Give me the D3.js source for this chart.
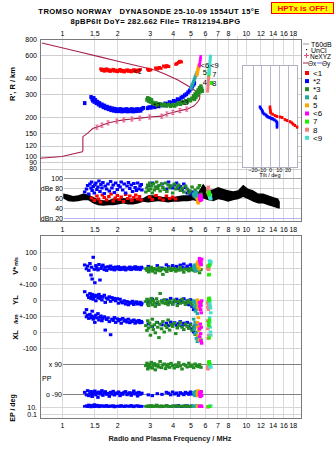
<!DOCTYPE html>
<html><head><meta charset="utf-8">
<script src="https://cdnjs.cloudflare.com/ajax/libs/d3/7.8.5/d3.min.js"></script>
<style>
html,body{margin:0;padding:0;background:#fff;}
svg{display:block;}
text{font-family:"Liberation Sans",Arial,sans-serif;}
</style></head><body>
<svg id="chart" width="335" height="451"></svg>
<script>
// ---------------- DATA ----------------
const titleLine1 = "TROMSO NORWAY   DYNASONDE 25-10-09 1554UT 15°E";
const titleLine2 = "8pBP6It DoY= 282.662 File= TR812194.BPG";
const warnText = "HPTx is OFF!";
const freqTicksTop = [1,1.5,2,3,4,5,6,7,8,10,12,14,16,18];
const freqLabelsTop = ["1","1.5","2","3","4","5","6","7","8","10","12","14","16","18"];
const freqTicksMid = [1,1.5,2,3,4,5,6,7,8,9,10,12,14,16,18];
const freqLabelsMid = ["1","1.5","2","3","4","5","6","7","8","9","10","12","14","16","18"];
const freqGrid = [1,1.5,2,3,4,5,6,7,8,9,10,12,14,16,18];
const heightTicks = [800,600,400,300,200,150,120,100,90,80];
const dbTicks = [100,80,60,40,20];
const dbTickLabels = ["100","dBe 80","60","40","dBn 20"];
const tiltTicks = [-20,-10,0,10,20];
const traceNames = ["<1","*2","*3","4","5","<6","7","8","<9"];
const traceColors = ["#ff0000","#0000ff","#228b22","#20a8a8","#ffa500","#ff00ff","#22ee00","#f08080","#40e0d0"];

// true-height profile (MHz, km)
const profF = [0.76,1.0,1.29,1.30,1.30,1.38,1.47,1.55,1.65,1.78,1.99,2.17,2.40,2.65,3.0,3.49,3.72,4.01,4.38,4.80,5.21,5.47,5.60,5.62,5.42,4.96,4.27,3.63,3.20,2.56,1.99,1.61,1.25,1.0,0.778];
const profH = [96,99,108,110,141,150,163,167,173,180,186,190,193,196,200,203,211,217,224,230,243,261,275,290,312,341,386,430,461,497,541,582,634,684,745];
// NeXYZ markers
const neF = [1.55,1.65,1.78,1.99,2.17,2.40,2.65,3.0,3.49,3.72,4.01,4.38,4.77];
const neH = [167,173,180,186,190,193,196,200,203,211,217,224,230];

// virtual height traces [MHz, km]
const hRed = [[1.63,470],[1.65,458],[1.68,466],[1.70,452],[1.72,462],[1.75,470],[1.78,455],[1.80,463],[1.83,450],[1.86,458],[1.90,466],[1.93,452],[1.96,460],[2.00,448],[2.03,457],[2.07,465],[2.10,450],[2.14,458],[2.18,446],[2.22,455],[2.26,462],[2.30,450],[2.34,458],[2.38,447],[2.42,455],[2.46,463],[2.50,452],[2.54,460],[2.58,449],[2.62,458],[2.66,465],[2.93,468],[2.97,458],[3.03,462],[3.24,478],[3.30,470],[3.38,482],[3.45,475],[3.58,495],[3.65,486],[3.72,498],[3.80,490],[4.17,510],[4.22,518],[4.32,528],[4.38,538],[4.45,532]];
const hBlue = [[1.33,256],[1.44,285],[1.46,276],[1.47,268],[1.49,280],[1.50,262],[1.52,270],[1.54,256],[1.56,262],[1.58,250],[1.60,256],[1.62,244],[1.65,250],[1.68,238],[1.70,245],[1.73,234],[1.76,240],[1.79,230],[1.82,236],[1.85,226],[1.88,233],[1.91,224],[1.94,231],[1.97,222],[2.00,229],[2.04,222],[2.08,230],[2.12,221],[2.16,228],[2.20,222],[2.24,230],[2.28,221],[2.32,228],[2.36,222],[2.40,230],[2.44,221],[2.48,228],[2.52,222],[2.56,230],[2.60,223],[2.64,229],[2.68,224],[2.72,231],[2.77,235],[2.92,234],[2.98,238],[3.05,236],[3.12,242],[3.20,238],[3.28,245],[3.36,242],[3.45,249],[3.55,246],[3.64,254],[3.74,252],[3.84,260],[3.95,258],[4.05,266],[4.15,264],[4.25,274],[4.35,272],[4.45,282],[4.55,286],[4.65,294],[4.75,300],[4.85,310],[4.95,320],[5.05,332],[5.12,344],[5.20,356],[5.25,366]];
const hGreen = [[2.90,272],[2.93,280],[2.96,266],[3.00,275],[3.03,262],[3.07,270],[3.12,258],[3.18,252],[3.25,256],[3.30,248],[3.40,252],[3.50,246],[3.60,250],[3.70,244],[3.80,249],[3.90,243],[4.00,248],[4.10,244],[4.20,250],[4.30,256],[4.40,252],[4.50,260],[4.60,256],[4.70,266],[4.80,262],[4.90,272],[5.00,268],[5.10,278],[5.20,290],[5.25,275],[5.30,300],[5.35,284],[5.40,310],[5.45,295],[5.50,322],[5.55,305],[5.60,335],[5.65,315],[5.70,345],[5.75,330],[5.80,318]];
const hTeal = [[5.05,335],[5.10,350],[5.15,362],[5.20,375],[5.25,390],[5.30,405],[5.35,420],[5.42,437]];
const hOrange = [[5.42,425],[5.45,440],[5.48,455],[5.50,470],[5.52,485],[5.55,500]];
const hMagenta = [[5.60,500],[5.62,520],[5.64,540],[5.66,560],[5.68,580]];
const hLime = [[6.28,405],[6.30,430],[6.31,455],[6.32,480],[6.50,366]];
const hSalmon = [[6.20,320],[6.22,340],[6.24,360],[6.26,380],[6.27,400]];
const hTurq = [[6.32,440],[6.34,470],[6.36,500],[6.38,530],[6.40,560],[6.42,585]];

// tilt inset [deg, km]
const tiltBlue = [[-11.5,239],[-10.5,233],[-9.2,226],[-8.5,220],[-8,215],[-6.5,211],[-4.6,207],[-3.5,203],[-2.3,200],[-0.5,198],[1.1,196],[2.3,194],[3.4,193],[5,190],[6.9,186],[8,182],[8,177],[8,172],[8,167]];
const tiltRed = [[0,239],[0,232],[0.5,225],[0.5,219],[1,215],[3,210],[5.7,205],[8,202],[11.5,200],[14,198],[17,191],[19.5,188],[23,184],[25,180],[26.5,176],[28.5,172],[31,167]];

// noise / amplitude band (MHz, dB)
const noiseF = [1.017,1.082,1.152,1.227,1.306,1.39,1.48,1.575,1.677,1.786,1.90,2.02,2.155,2.29,2.44,2.60,2.77,2.94,3.14,3.34,3.55,3.78,4.03,4.29,4.56,4.86,5.17,5.51,5.86,6.24,6.64,7.07,7.53,8.01,8.53,9.08,9.67,10.3,10.96,11.67,12.42,13.22,14.07,15.0,15.3];
const noiseHi = [68.8,66.8,64.2,65.5,68.8,66.8,62.2,57.6,55.6,55.6,58.9,58.9,60.2,58.9,58.9,58.9,60.2,65.5,65.5,64.2,62.2,62.2,62.2,64.2,65.5,65.5,66.8,72.1,88.6,75.4,77.4,82,78.7,75.4,73.4,75.4,86.6,78.7,75.4,68.8,68.8,65.5,62.2,58.9,52.3];
const noiseLo = [58.9,53.6,52.3,53.6,55.6,55.6,49,45.7,44.4,45.7,45.7,47,49,47,47,49,52.3,51,52.3,53.6,52.3,51,52.3,52.3,53.6,53.6,55.6,52.3,58.9,55.6,53.6,57.6,55.6,52.3,55.6,57.6,62.2,57.6,52.3,49,49,45.7,42.4,39.1,39.1];

// echoes of trace 2 (blue): frequency and parameters
const fB = [1.33,1.36,1.38,1.40,1.42,1.44,1.45,1.46,1.48,1.50,1.51,1.53,1.55,1.57,1.59,1.61,1.63,1.65,1.67,1.70,1.72,1.75,1.78,1.81,1.84,1.87,1.90,1.93,1.96,2.00,2.03,2.07,2.10,2.14,2.18,2.22,2.26,2.30,2.34,2.38,2.42,2.46,2.50,2.54,2.58,2.62,2.66,2.70,2.72,2.95,3.10,3.30,3.50,3.70,3.80,3.90,4.00,4.10,4.20,4.30,4.40,4.50,4.60,4.70,4.80,4.90,5.00,5.10,5.20,5.30];
const vB = [19,-5,12,-15,28,-44,5,-69,67,-8,-92,15,0,-12,22,-75,-3,10,18,-10,5,-15,8,-5,12,-8,3,-12,6,-6,8,-10,2,-8,5,-12,0,-6,6,-10,2,-5,8,-8,4,-3,-10,5,0,10,-5,15,0,20,8,-5,15,2,10,-8,18,5,25,0,12,-5,20,8,-12,15];
const ylB = [52,-60,30,15,40,10,25,35,5,20,30,-5,28,15,35,10,22,0,18,30,-15,12,5,20,-8,15,2,10,-5,8,-20,5,-12,-18,-5,-25,-10,-30,-15,-20,-8,-28,-18,-12,-25,-22,-15,-30,-20,-15,5,-20,-5,0,-15,10,-25,-8,5,-18,-2,-12,8,-20,-5,-30,2,-40,-60,-10];
const xlB = [120,95,105,85,110,90,100,130,80,95,60,105,88,115,75,92,100,70,85,95,12,78,88,65,-17,80,72,90,60,82,70,78,55,85,68,75,62,80,58,70,65,75,55,68,62,72,58,66,60,50,35,60,45,55,40,62,48,58,42,52,65,38,55,45,60,30,50,20,0,40];
const ppB = [-80,-95,-70,-100,-85,-75,-90,-105,-80,-88,-72,-95,-82,-110,-78,-90,-85,-70,-98,-84,-76,-92,-86,-104,-80,-90,-74,-96,-84,-88,-78,-100,-86,-92,-80,-76,-94,-88,-82,-98,-86,-72,-90,-84,-102,-80,-92,-88,-85,-95,-100,-88,-92,-80,-85,-95,-78,-90,-84,-98,-82,-88,-94,-80,-86,-92,-78,-90,-84,-96];
const epB = [15,25,12,40,18,10,30,14,22,50,12,16,35,20,11,28,15,18,24,13,19,30,12,16,22,14,26,10,18,15,21,13,28,17,12,24,15,20,14,30,16,11,22,18,25,13,19,15,17,15,12,20,14,25,16,12,18,22,14,30,16,12,20,15,25,13,18,22,15,12];
const dbB = [72,78,85,68,88,80,92,75,83,70,86,90,77,82,94,73,87,80,91,69,84,78,88,74,93,80,86,71,90,77,85,82,92,76,88,70,84,91,79,86,73,89,81,75,90,78,84,87,76,85,90,82,88,78,92,84,80,86,90,79,83,76,88,81,70,74,68,72,66,70];

// echoes of trace 3 (green)
const fG = [2.86,2.90,2.93,2.96,3.00,3.03,3.06,3.10,3.14,3.18,3.22,3.27,3.32,3.37,3.42,3.48,3.54,3.60,3.66,3.72,3.78,3.85,3.92,4.00,4.08,4.16,4.24,4.32,4.40,4.50,4.60,4.70,4.80,4.90,5.00,5.10,5.20,5.30,5.40,5.50,5.60,5.70];
const vG = [-5,-15,0,-25,-8,-12,5,-20,-3,-10,-30,-6,-14,2,-18,-8,-40,-4,-12,-22,-6,0,-16,-10,-2,-20,-8,-14,5,-12,-26,-6,-10,-18,-4,-12,-8,-20,-15,-5,-30,-10];
const ylG = [-10,5,-25,-35,0,-15,10,-30,-5,-20,-40,8,-12,-28,41,-8,-18,2,-22,-10,-30,-5,-15,-25,0,-12,-35,-8,-20,5,-15,-28,-10,-2,-18,-30,-8,-45,-20,-60,-35,-15];
const xlG = [40,10,70,25,55,-20,35,80,15,45,-5,60,30,-35,50,20,65,0,40,28,75,12,45,35,55,-10,25,40,60,30,15,50,35,22,45,10,30,-15,40,-30,20,-50];
const ppG = [80,95,60,75,88,70,100,65,82,92,55,78,86,72,105,68,84,90,62,76,88,70,94,80,66,85,74,98,78,60,88,82,72,95,76,84,68,90,80,74,86,70];
const epG = [15,20,12,25,14,18,30,12,16,22,13,40,15,18,11,24,16,13,20,28,14,17,12,22,15,19,26,13,16,20,14,30,12,18,15,22,13,17,25,14,19,16];
const dbG = [72,80,86,75,90,78,84,70,88,76,82,92,79,85,74,88,81,77,90,73,86,80,84,70,88,78,82,86,75,80,72,84,78,70,74,82,66,76,70,80,85,68];

// echoes of trace 1 (red), amplitude only
const fR = [1.45,1.50,1.55,1.58,1.62,1.66,1.70,1.75,1.80,1.85,1.90,1.95,2.00,2.05,2.10,2.16,2.22,2.28,2.34,2.40,2.46,2.52,2.58,2.64,2.70,3.00,3.10,3.25,3.40,3.55,3.70,3.85,4.00,4.15];
const dbR = [60,55,64,58,52,66,61,56,63,68,54,60,65,57,62,53,67,59,64,55,61,66,58,63,56,62,57,65,60,56,64,59,62,58];

// echoes of traces 4..9
const f4 = [5.20,5.25,5.30,5.32,5.35,5.38,5.40,5.45];
const v4 = [10,-5,20,0,-15,5,-10,15];
const yl4 = [-5,-40,-20,-70,-10,-55,-30,-85];
const xl4 = [80,20,60,-10,40,-40,0,-60];
const pp4 = [-80,-95,-85,-100,-75,-90,-88,-82];
const ep4 = [15,12,20,14,18,16,12,22];
const db4 = [68,64,70,62,66,72,60,65];
const f5 = [5.45,5.48,5.50,5.52,5.55,5.58,5.60];
const v5 = [30,15,40,5,25,-5,20];
const yl5 = [0,-20,-45,-10,-30,-60,-15];
const xl5 = [60,30,-20,90,10,-50,40];
const pp5 = [-85,-100,-70,-92,-80,-95,-88];
const ep5 = [14,18,12,22,15,20,13];
const db5 = [58,52,56,50,54,60,55];
const f6 = [5.60,5.62,5.65,5.68,5.70,5.72,5.75];
const v6 = [60,45,30,50,35,20,55];
const yl6 = [-15,-40,-25,-60,-35,-80,-5];
const xl6 = [20,-30,50,-10,-55,30,-70];
const pp6 = [-90,-80,-105,-85,-95,-75,-100];
const ep6 = [16,12,20,14,18,22,13];
const db6 = [62,58,66,55,60,64,57];
const f7 = [6.28,6.30,6.32,6.34];
const v7 = [-44,10,-40,20];
const yl7 = [8,-5,12,0];
const xl7 = [60,40,-37,75];
const pp7 = [100,95,105,90];
const ep7 = [15,12,18,14];
const db7 = [70,66,72,68];
const f8 = [6.20,6.22,6.24,6.26,6.28];
const v8 = [10,-5,15,0,-10];
const yl8 = [-20,-45,-10,-60,-30];
const xl8 = [70,20,-40,45,-20];
const pp8 = [70,60,80,65,75];
const ep8 = [12,8,15,10,14];
const db8 = [72,78,70,82,75];
const f9 = [6.35,6.37,6.40,6.42,6.45];
const v9 = [45,30,20,40,35];
const yl9 = [5,-15,-35,-50,-80];
const xl9 = [90,60,30,0,-20];
const pp9 = [85,75,90,80,70];
const ep9 = [15,20,12,18,25];
const db9 = [64,60,62,66,58];

// in-plot trace labels [text, MHz, km]
const plotLabels = [["<1",2.57,447],["*2",3.28,244],["*3",4.66,261],["<6",5.99,504],["5",5.99,440],["4",5.99,372],["<9",6.75,500],["7",6.75,425],["8",6.75,366]];

// ---------------- DRAW ----------------
const svg = d3.select("#chart");
svg.append("rect").attr("width",335).attr("height",451).attr("fill","#fff");

const x = d3.scaleLog().domain([0.76,20.2]).range([40,302]);
const yH = d3.scaleLog().domain([100,800]).range([156,39]);
const yDb = d3.scaleLinear().domain([20,100]).range([218,178]);
const yV = d3.scaleLinear().domain([-100,100]).range([284,252]);
const yYL = d3.scaleLinear().domain([-100,100]).range([316,284]);
const yXL = d3.scaleLinear().domain([-100,100]).range([348,316]);
const yPP = d3.scaleLinear().domain([-90,90]).range([394,364]);
const yEP = d3.scaleLog().domain([0.1,10]).range([414,407]);
const xT = d3.scaleLinear().domain([-32,32]).range([242,298]);

const grid = "#dadada";
const px = v => Math.round(v)+0.5;

// grids
const gG = svg.append("g").attr("shape-rendering","crispEdges");
[[36,222],[235,419]].forEach(([a,b])=>{
  gG.selectAll(null).data(freqGrid).join("line")
    .attr("x1",d=>px(x(d))).attr("x2",d=>px(x(d))).attr("y1",a).attr("y2",b).attr("stroke",grid);
});
gG.selectAll(null).data(heightTicks).join("line")
  .attr("x1",40).attr("x2",302).attr("y1",d=>px(yH(d))).attr("y2",d=>px(yH(d))).attr("stroke","#cfcfcf");
gG.selectAll(null).data(dbTicks).join("line")
  .attr("x1",64).attr("x2",302).attr("y1",d=>px(yDb(d))).attr("y2",d=>px(yDb(d)))
  .attr("stroke",d=>d===20?"#b4b4f0":(d===100?"#a0a0a0":"#cfcfcf"));
const lowerLines = [yV(100),yV(0),yV(-100),yYL(0),yYL(-100),yXL(0),yXL(-100),yEP(10),yEP(0.1)];
gG.selectAll(null).data(lowerLines).join("line")
  .attr("x1",40).attr("x2",302).attr("y1",d=>px(d)).attr("y2",d=>px(d)).attr("stroke","#d6d6d6");
gG.selectAll(null).data([90,-90]).join("line")
  .attr("x1",63).attr("x2",302).attr("y1",d=>px(yPP(d))).attr("y2",d=>px(yPP(d))).attr("stroke","#808080");

// frames
const gF = svg.append("g").attr("shape-rendering","crispEdges").attr("fill","none").attr("stroke","#7a7a7a");
gF.append("rect").attr("x",40.5).attr("y",39.5).attr("width",261).attr("height",182);
gF.append("rect").attr("x",40.5).attr("y",235.5).attr("width",261).attr("height",183);

// tilt inset
const gT = svg.append("g");
gT.append("rect").attr("x",242.5).attr("y",65.5).attr("width",55).attr("height",102)
  .attr("fill","#fff").attr("stroke","#b0b0c0").attr("shape-rendering","crispEdges");
gT.selectAll(null).data(tiltTicks).join("line").attr("shape-rendering","crispEdges")
  .attr("x1",d=>px(xT(d))).attr("x2",d=>px(xT(d))).attr("y1",66).attr("y2",167).attr("stroke","#b8b8d0");
const tAx = gT.append("g").attr("transform","translate(0,168)")
  .call(d3.axisBottom(xT).tickValues(tiltTicks).tickSize(0).tickPadding(0).tickFormat(d3.format("d")));
tAx.select(".domain").remove();
tAx.selectAll("text").attr("font-size","5.5px").attr("font-family","Liberation Sans");
gT.append("text").attr("x",270).attr("y",177).attr("text-anchor","middle").attr("font-size","5.5px").text("Tilt / deg");
function sq(g, data, fx, fy, color, w, h){
  g.selectAll(null).data(data).join("rect")
    .attr("x",d=>fx(d)-w/2).attr("y",d=>fy(d)-h/2).attr("width",w).attr("height",h).attr("fill",color);
}
sq(gT, tiltBlue, d=>xT(d[0]), d=>yH(d[1]), traceColors[1], 2.5, 3);
sq(gT, tiltRed, d=>xT(d[0]), d=>yH(d[1]), traceColors[0], 2.5, 3);

// profile
const prof = profF.map((f,i)=>[f,profH[i]]);
svg.append("path").datum(prof).attr("fill","none").attr("stroke","#a8204a").attr("stroke-width",1.1)
  .attr("d",d3.line().x(d=>x(d[0])).y(d=>yH(d[1])));
const gNe = svg.append("g").attr("stroke","#e8508a").attr("stroke-width",1).attr("fill","none");
gNe.selectAll(null).data(neF.map((f,i)=>[f,neH[i]])).join("path")
  .attr("d",d=>{const cx=x(d[0]),cy=yH(d[1]);return `M${cx-1.5},${cy-2}h3M${cx},${cy-2}v4M${cx-1.5},${cy+2}h3`;});

// height traces
const gTr = svg.append("g");
sq(gTr, hRed, d=>x(d[0]), d=>yH(d[1]), traceColors[0], 3.5, 3);
sq(gTr, hBlue, d=>x(d[0]), d=>yH(d[1]), traceColors[1], 3.5, 4);
sq(gTr, hGreen, d=>x(d[0]), d=>yH(d[1]), traceColors[2], 3.5, 4);
sq(gTr, hTeal, d=>x(d[0]), d=>yH(d[1]), traceColors[3], 3, 4);
sq(gTr, hOrange, d=>x(d[0]), d=>yH(d[1]), traceColors[4], 3, 4);
sq(gTr, hMagenta, d=>x(d[0]), d=>yH(d[1]), traceColors[5], 2.5, 4);
sq(gTr, hLime, d=>x(d[0]), d=>yH(d[1]), traceColors[6], 3, 4);
sq(gTr, hSalmon, d=>x(d[0]), d=>yH(d[1]), traceColors[7], 3, 4);
sq(gTr, hTurq, d=>x(d[0]), d=>yH(d[1]), traceColors[8], 3, 4);
svg.append("g").selectAll(null).data(plotLabels).join("text")
  .attr("x",d=>x(d[1])).attr("y",d=>yH(d[2])).attr("dy","0.35em").attr("text-anchor","middle")
  .attr("font-size","7.5px").attr("fill","#000").text(d=>d[0]);

// amplitude band
const noise = noiseF.map((f,i)=>[f,noiseLo[i],noiseHi[i]]);
svg.append("path").datum(noise).attr("fill","#000")
  .attr("d",d3.area().x(d=>x(d[0])).y0(d=>yDb(d[1])).y1(d=>yDb(d[2])));

// echoes
function echoes(f, cols){ return f.map((v,i)=>{const o={f:v}; for(const k in cols) o[k]=cols[k][i]; return o;}); }
const E = [
  [echoes(fB,{v:vB,yl:ylB,xl:xlB,pp:ppB,ep:epB,db:dbB}), traceColors[1]],
  [echoes(fG,{v:vG,yl:ylG,xl:xlG,pp:ppG,ep:epG,db:dbG}), traceColors[2]],
  [echoes(f4,{v:v4,yl:yl4,xl:xl4,pp:pp4,ep:ep4,db:db4}), traceColors[3]],
  [echoes(f5,{v:v5,yl:yl5,xl:xl5,pp:pp5,ep:ep5,db:db5}), traceColors[4]],
  [echoes(f6,{v:v6,yl:yl6,xl:xl6,pp:pp6,ep:ep6,db:db6}), traceColors[5]],
  [echoes(f8,{v:v8,yl:yl8,xl:xl8,pp:pp8,ep:ep8,db:db8}), traceColors[7]],
  [echoes(f9,{v:v9,yl:yl9,xl:xl9,pp:pp9,ep:ep9,db:db9}), traceColors[8]],
  [echoes(f7,{v:v7,yl:yl7,xl:xl7,pp:pp7,ep:ep7,db:db7}), traceColors[6]]
];
const gE = svg.append("g");
sq(gE, echoes(fR,{db:dbR}), d=>x(d.f), d=>yDb(d.db), traceColors[0], 3.5, 3);
E.forEach(([data,col])=>{
  sq(gE, data, d=>x(d.f), d=>yDb(d.db), col, 3.5, 3);
  sq(gE, data, d=>x(d.f), d=>yV(d.v), col, 3.5, 3);
  sq(gE, data, d=>x(d.f), d=>yYL(d.yl), col, 3.5, 3);
  sq(gE, data, d=>x(d.f), d=>yXL(d.xl), col, 3.5, 3);
  sq(gE, data, d=>x(d.f), d=>yPP(d.pp), col, 3.5, 3);
  sq(gE, data, d=>x(d.f), d=>yEP(d.ep), col, 3.5, 2.5);
});

// axes
function styleAx(g){ g.select(".domain").remove(); g.selectAll("text").attr("font-size","7px").attr("font-family","Liberation Sans").attr("fill","#000"); return g; }
styleAx(svg.append("g").attr("transform","translate(0,39)")
  .call(d3.axisTop(x).tickValues(freqTicksTop).tickSize(0).tickPadding(3).tickFormat((d,i)=>freqLabelsTop[i])));
styleAx(svg.append("g").attr("transform","translate(0,222)")
  .call(d3.axisBottom(x).tickValues(freqTicksMid).tickSize(0).tickPadding(5.5).tickFormat((d,i)=>freqLabelsMid[i])));
styleAx(svg.append("g").attr("transform","translate(0,419)")
  .call(d3.axisBottom(x).tickValues(freqTicksTop).tickSize(0).tickPadding(4).tickFormat((d,i)=>freqLabelsTop[i])));
styleAx(svg.append("g").attr("transform","translate(40,0)")
  .call(d3.axisLeft(yH).tickValues(heightTicks).tickSize(0).tickPadding(3).tickFormat(d3.format("d"))));
styleAx(svg.append("g").attr("transform","translate(64,0)")
  .call(d3.axisLeft(yDb).tickValues(dbTicks).tickSize(0).tickPadding(1).tickFormat((d,i)=>dbTickLabels[i])));
const vLab = ["100","0","+-100"], ylLab = ["0","+-100"], xlLab = ["0","-100"], epLab = ["10.","0.1"], ppLab = ["x 90","o -90"];
styleAx(svg.append("g").attr("transform","translate(40,0)")
  .call(d3.axisLeft(yV).tickValues([100,0,-100]).tickSize(0).tickPadding(3).tickFormat((d,i)=>vLab[i])));
styleAx(svg.append("g").attr("transform","translate(40,0)")
  .call(d3.axisLeft(yYL).tickValues([0,-100]).tickSize(0).tickPadding(3).tickFormat((d,i)=>ylLab[i])));
styleAx(svg.append("g").attr("transform","translate(40,0)")
  .call(d3.axisLeft(yXL).tickValues([0,-100]).tickSize(0).tickPadding(3).tickFormat((d,i)=>xlLab[i])));
styleAx(svg.append("g").attr("transform","translate(40,0)")
  .call(d3.axisLeft(yEP).tickValues([10,0.1]).tickSize(0).tickPadding(3).tickFormat((d,i)=>epLab[i])));
styleAx(svg.append("g").attr("transform","translate(63,0)")
  .call(d3.axisLeft(yPP).tickValues([90,-90]).tickSize(0).tickPadding(1).tickFormat((d,i)=>ppLab[i])));
svg.append("text").attr("x",42).attr("y",yPP(0)).attr("dy","0.35em").attr("font-size","7px").text("PP");

// axis titles
function vtext(t, cx, cy, size){ return svg.append("text").attr("transform",`translate(${cx},${cy}) rotate(-90)`)
  .attr("text-anchor","middle").attr("font-size",size).attr("font-weight","bold").text(t); }
vtext("R', R / km", 15, 84, "7.5px");
const vs = svg.append("text").attr("transform","translate(18,266) rotate(-90)").attr("text-anchor","middle").attr("font-weight","bold");
vs.append("tspan").attr("font-size","7.5px").text("V*");
vs.append("tspan").attr("font-size","5px").attr("dx","1").text("m/s");
vtext("YL", 18, 300, "7.5px");
vtext("/km", 18, 319, "5.5px");
vtext("XL", 18, 335, "7.5px");
vtext("EP / deg", 15, 408, "7px");
svg.append("text").attr("x",170).attr("y",441).attr("text-anchor","middle").attr("font-size","7.3px").attr("font-weight","bold").attr("fill","#222")
  .text("Radio and Plasma Frequency / MHz");

// titles
svg.append("text").attr("x",149).attr("y",14.3).attr("text-anchor","middle").attr("font-family","DejaVu Sans Mono").attr("font-size","7.6px").attr("letter-spacing","0.38px").attr("font-weight","bold").attr("xml:space","preserve").style("white-space","pre").text(titleLine1);
svg.append("text").attr("x",155.5).attr("y",23.6).attr("text-anchor","middle").attr("font-family","DejaVu Sans Mono").attr("font-size","7.6px").attr("letter-spacing","0.38px").attr("font-weight","bold").text(titleLine2);
svg.append("rect").attr("x",271.5).attr("y",2.5).attr("width",62).attr("height",11).attr("fill","#ffff00").attr("stroke","#ff0000");
svg.append("text").attr("x",302.5).attr("y",11).attr("text-anchor","middle").attr("font-family","DejaVu Sans Mono").attr("font-size","8px").attr("font-weight","bold").attr("fill","#ff0000").text(warnText);

// legend
const gL = svg.append("g").attr("font-size","7px");
gL.append("line").attr("x1",303).attr("x2",309).attr("y1",44).attr("y2",44).attr("stroke","#999");
gL.append("text").attr("x",311).attr("y",46.5).text("T60dB");
gL.append("rect").attr("x",306).attr("y",49).attr("width",1.2).attr("height",1.2).attr("fill","#000");
gL.append("text").attr("x",311).attr("y",52.5).text("UnCl");
gL.append("path").attr("d","M304,55.5h5M306.5,53v5").attr("stroke","#e8508a");
gL.append("text").attr("x",310).attr("y",58.5).attr("font-size","6.5px").text("NeXYZ");
gL.append("line").attr("x1",303).attr("x2",308).attr("y1",63).attr("y2",63).attr("stroke","#a8204a");
gL.append("text").attr("x",308).attr("y",65.5).attr("font-size","6.5px").text("Θx");
gL.append("line").attr("x1",317).attr("x2",322).attr("y1",63).attr("y2",63).attr("stroke","#6a6aff");
gL.append("text").attr("x",322).attr("y",65.5).attr("font-size","6.5px").text("Θy");
const li = gL.selectAll(null).data(traceNames).join("g").attr("transform",(d,i)=>`translate(0,${73+i*8.1})`);
li.append("rect").attr("x",305).attr("y",-2).attr("width",4).attr("height",4).attr("fill",(d,i)=>traceColors[i]);
li.append("text").attr("x",313).attr("y",2.8).attr("font-size","8px").text(d=>d);
</script></body></html>
